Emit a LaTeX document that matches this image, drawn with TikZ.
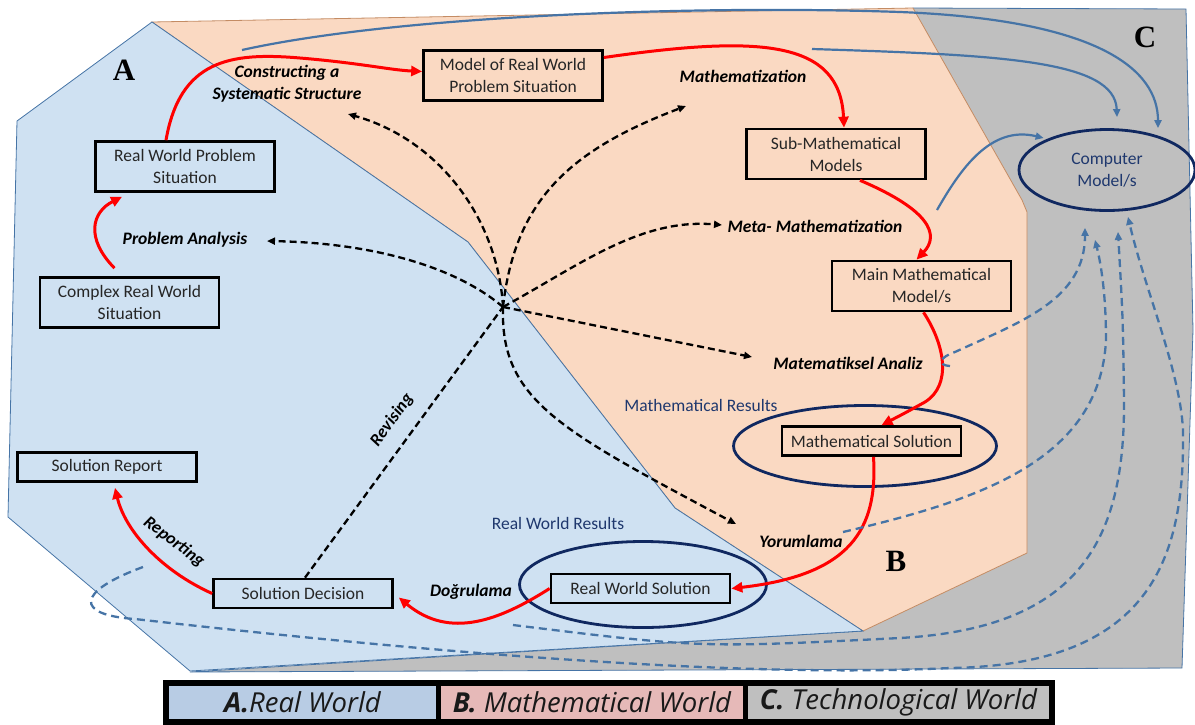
\documentclass[tikz,border=0pt]{standalone}
\usepackage{fontspec}
\setmainfont{Carlito}
\newfontfamily\legendfont{Open Sans}
\newfontfamily\letterfont{Liberation Serif}
\usetikzlibrary{arrows.meta,shapes.geometric}
\definecolor{rwblue}{RGB}{207,225,242}
\definecolor{mwpeach}{RGB}{250,217,194}
\definecolor{twgrey}{RGB}{191,191,191}
\definecolor{steel}{RGB}{70,116,166}
\definecolor{edgebrown}{RGB}{196,140,100}
\definecolor{navy}{RGB}{16,40,96}
\definecolor{navytext}{RGB}{31,56,110}
\definecolor{legA}{RGB}{184,204,228}
\definecolor{legB}{RGB}{230,185,184}
\definecolor{legC}{RGB}{191,191,191}
\begin{document}
\begin{tikzpicture}[x=1pt,y=-1pt,
  box/.style={draw=black, line width=2.7pt, minimum width=179pt, minimum height=50pt,
    align=center, font=\fontsize{17.5}{22}\selectfont, text=black!85, inner sep=1pt},
  sbox/.style={box, minimum height=29pt},
  lab/.style={font=\fontsize{17.5}{22}\selectfont\bfseries\itshape, align=center, inner sep=1pt},
  nav/.style={font=\fontsize{17.5}{22}\selectfont, text=navytext, align=center},
  ell/.style={ellipse, draw=navy, line width=2.8pt, inner sep=0pt},
  big/.style={font=\letterfont\bfseries\fontsize{31}{31}\selectfont},
  redarrow/.style={draw=red, line width=3pt, -{Triangle[length=11pt,width=10pt]}},
  bdash/.style={draw=black, line width=2.3pt, dash pattern=on 7pt off 4pt, -{Triangle[length=8pt,width=7pt]}},
  bsolid/.style={draw=steel, line width=2.2pt, -{Triangle[length=8pt,width=7pt]}},
  bdashed/.style={draw=steel, line width=2.3pt, dash pattern=on 8pt off 5pt, -{Triangle[length=8pt,width=7pt]}},
  legcell/.style={minimum height=33pt, inner sep=0pt, text=black!90,
    font=\legendfont\itshape\fontsize{27.5}{27.5}\selectfont}
]
\useasboundingbox (0,0) rectangle (1195,724);

% regions
\filldraw[fill=twgrey, draw=steel, line width=0.8pt]
  (913,8) -- (1186,9) -- (1193,330) -- (1182,668) -- (190,672) -- (863,631) -- cycle;
\filldraw[fill=mwpeach, draw=edgebrown, line width=0.8pt]
  (152,22) -- (913,8) -- (1022,200) -- (1027,212) -- (1027,553) -- (863,631) -- (675,508) -- (468,242) -- cycle;
\filldraw[fill=rwblue, draw=steel, line width=0.8pt]
  (152,22) -- (468,242) -- (675,508) -- (863,631) -- (190,671) -- (8,517) -- (17,121) -- cycle;

% big letters
\node[big] (la) at (124,70) {A};
\node[big] (lb) at (896,561) {B};
\node[big] (lc) at (1145,37) {C};

% ellipses
\node[ell, minimum width=176pt, minimum height=81pt, nav] (comp) at (1107,170) {Computer\\Model/s};
\node[ell, minimum width=263pt, minimum height=81pt] (mse) at (865,446) {};
\node[ell, minimum width=247pt, minimum height=86pt] (rwse) at (643,584.5) {};

% boxes
\node[box] (crws) at (129.5,302.5) {Complex Real World\\Situation};
\node[box] (rwps) at (185,166.5) {Real World Problem\\Situation};
\node[box] (mrwps) at (513,75.5) {Model of Real World\\Problem Situation};
\node[box] (smm) at (836,154) {Sub-Mathematical\\Models};
\node[box] (mmm) at (921.5,286) {Main Mathematical\\Model/s};
\node[sbox] (ms) at (871.5,441) {Mathematical Solution};
\node[sbox] (rws) at (640.5,588.5) {Real World Solution};
\node[sbox] (sd) at (303,593.5) {Solution Decision};
\node[sbox] (sr) at (107,467) {Solution Report};

% labels
\node[lab] (lcons) at (287,84) {Constructing a\\Systematic Structure};
\node[lab] (lmath) at (743,76) {Mathematization};
\node[lab] (lprob) at (185,240) {Problem Analysis};
\node[lab] (lmeta) at (815,226) {Meta- Mathematization};
\node[lab] (lanal) at (848,363) {Matematiksel Analiz};
\node[lab] (lyor) at (801,541) {Yorumlama};
\node[lab] (ldog) at (471,592) {Doğrulama};
\node[lab, rotate=54] (lrev) at (392,420) {Revising};
\node[lab, rotate=-37] (lrep) at (174,542) {Reporting};
\node[nav] (lmr) at (701,405) {Mathematical Results};
\node[nav] (lrr) at (558,523) {Real World Results};

% red arrows
\draw[redarrow] ([xshift=-15pt,yshift=8pt]crws.north) .. controls (85,238) and (92,212) .. ([xshift=-63pt,yshift=-4pt]rwps.south);
\draw[redarrow] ([xshift=-19pt]rwps.north) .. controls (180,60) and (230,52) .. (300,58) .. controls (360,63) and (390,70) .. ([yshift=4pt]mrwps.west);
\draw[redarrow] ([yshift=18pt]mrwps.east) .. controls (760,35) and (840,40) .. ([xshift=8pt]smm.north);
\draw[redarrow] ([xshift=24pt]smm.south) .. controls (930,210) and (940,235) .. ([xshift=-5pt]mmm.north);
\draw[redarrow] ([xshift=2pt]mmm.south) .. controls (945,345) and (952,385) .. (925,402) .. controls (905,413) .. ([xshift=10pt]ms.north);
\draw[redarrow] ([xshift=2pt]ms.south) .. controls (878,530) and (850,575) .. (rws.east);
\draw[redarrow] (rws.west) .. controls (500,620) and (450,640) .. ([xshift=5pt,yshift=-4pt]sd.east);
\draw[redarrow] (sd.west) .. controls (160,570) and (125,530) .. ([xshift=8pt,yshift=-5pt]sr.south);

% black dashed
\coordinate (X) at (503,307);
\coordinate (tcons) at (348,114);
\coordinate (tmath) at (686,106);
\coordinate (tmeta) at (722,225);
\coordinate (tanal) at (752,357);
\coordinate (tyor) at (736,524);
\coordinate (tprob) at (267,241);
\draw[draw=black, line width=2.3pt, dash pattern=on 7pt off 4pt] ([xshift=2pt]sd.north) -- (X);
\draw[bdash] (X) .. controls (498,220) and (440,140) .. (tcons);
\draw[bdash] (X) .. controls (515,200) and (570,150) .. (tmath);
\draw[bdash] (X) .. controls (580,265) and (640,218) .. (tmeta);
\draw[bdash] (X) -- (tanal);
\draw[bdash] (X) .. controls (500,400) and (560,430) .. (tyor);
\draw[bdash] (X) .. controls (460,270) and (380,243) .. (tprob);

% blue solid
\coordinate (s1) at (242,50);
\coordinate (s2) at (812,49);
\coordinate (s3) at (937,210);
\draw[bsolid] (s1) .. controls (400,15) and (700,5) .. (900,12) .. controls (1100,20) and (1158,70) .. ([xshift=51pt]comp.north);
\draw[bsolid] (s2) .. controls (1000,55) and (1115,60) .. ([xshift=10pt,yshift=11pt]comp.north);
\draw[bsolid] (s3) .. controls (960,170) and (990,125) .. ([xshift=26pt,yshift=32pt]comp.west);

% blue dashed
\coordinate (sa) at (950,366);
\coordinate (sb) at (843,532);
\coordinate (sc) at (513,625);
\coordinate (sdd) at (143,567);
\draw[bdashed] (sa) .. controls (936,365) and (940,357) .. (955,352) .. controls (1020,322) and (1085,300) .. ([xshift=-22pt,yshift=-16pt]comp.south);
\draw[bdashed] (sb) .. controls (980,500) and (1100,460) .. (1106,340) .. controls (1106,290) and (1100,260) .. ([xshift=-12pt,yshift=-28pt]comp.south);
\draw[bdashed] (sc) .. controls (700,648) .. (900,638) .. controls (1080,628) and (1125,540) .. (1124,400) .. controls (1123,320) .. ([xshift=11pt,yshift=-20pt]comp.south);
\draw[bdashed] (sdd) .. controls (75,592) and (75,615) .. (135,619) .. controls (450,655) and (750,678) .. (950,668) .. controls (1150,665) and (1185,560) .. (1183,430) .. controls (1180,370) and (1145,290) .. ([xshift=21pt,yshift=-5pt]comp.south);

% legend
\fill[black] (163,680) rectangle (1055,726);
\node[legcell, fill=legA, minimum width=267pt] (legA) at (302.5,702.5) {\textbf{A.}Real World};
\node[legcell, fill=legB, minimum width=302pt] (legB) at (592,702.5) {\textbf{B.} Mathematical World};
\node[legcell, fill=legC, minimum width=301pt] (legC) at (898.5,702.5) {\textbf{C.} Technological World};
\end{tikzpicture}
\end{document}
